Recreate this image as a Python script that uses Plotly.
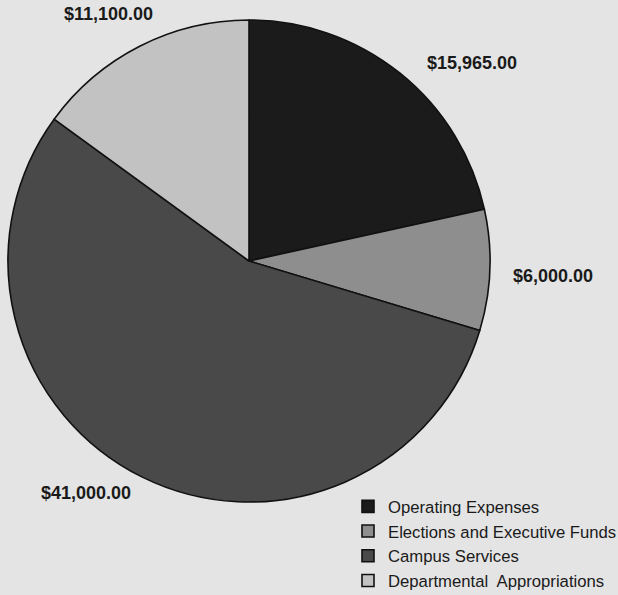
import plotly.graph_objects as go

categories = ["Operating Expenses", "Elections and Executive Funds", "Campus Services", "Departmental  Appropriations"]
values = [15965.00, 6000.00, 41000.00, 11100.00]
value_labels = ["$15,965.00", "$6,000.00", "$41,000.00", "$11,100.00"]
colors = ["#1b1b1b", "#8e8e8e", "#494949", "#c2c2c2"]

W, H = 618, 595
fig = go.Figure()
fig.add_trace(go.Pie(
    labels=categories, values=values, sort=False, direction="clockwise", rotation=0,
    marker=dict(colors=colors, line=dict(color="#111111", width=1.6)),
    textinfo="none", hoverinfo="label+value",
    domain=dict(x=[8/W, 490/W], y=[1-502/H, 1-20/H]),
))

label_pos = [(472, 63), (553, 276), (86, 493), (109, 14)]
for txt, (px, py) in zip(value_labels, label_pos):
    fig.add_annotation(x=px/W, y=1-py/H, xref="paper", yref="paper", text=f"<b>{txt}</b>",
                       xanchor="center", yanchor="middle",
                       showarrow=False, font=dict(family="Liberation Sans", size=18, color="#1a1a1a"))

fig.update_layout(
    width=W, height=H, margin=dict(l=0, r=0, t=0, b=0, autoexpand=False),
    paper_bgcolor="#e4e4e4", plot_bgcolor="#e4e4e4",
    showlegend=True,
    legend=dict(x=348/W, y=1-489/H, xanchor="left", yanchor="top", bgcolor="rgba(0,0,0,0)",
                font=dict(family="Liberation Sans", size=16.7, color="#1a1a1a"),
                itemwidth=30),
)
fig.write_html("out.html")
